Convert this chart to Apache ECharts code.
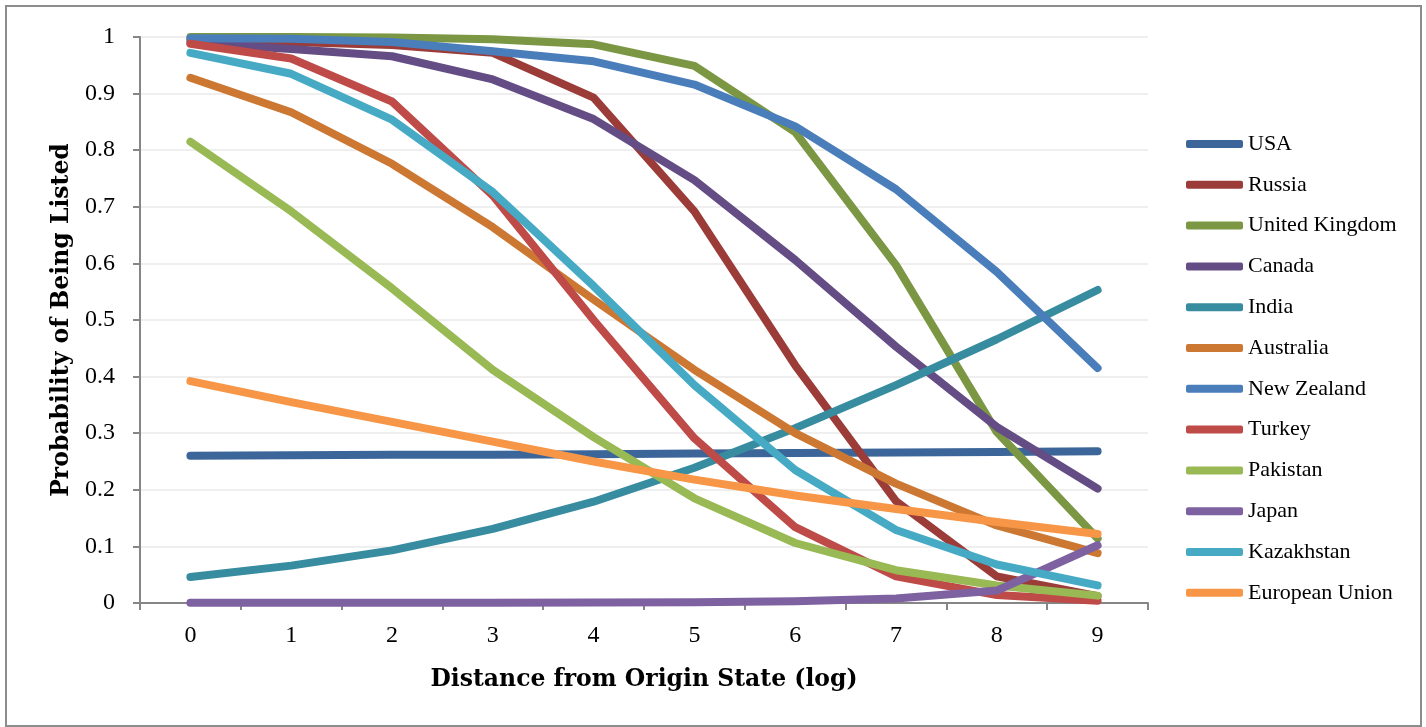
<!DOCTYPE html>
<html>
<head>
<meta charset="utf-8">
<title>Probability of Being Listed</title>
<script src="https://cdn.jsdelivr.net/npm/echarts@6/dist/echarts.min.js"></script>
<style>
  html, body { margin: 0; padding: 0; background: #fff; }
  #chart { width: 1426px; height: 727px; }
</style>
</head>
<body>
<div id="chart"></div>
<script>
// distance categories (log)
var categories = ['0', '1', '2', '3', '4', '5', '6', '7', '8', '9'];

// values
var usa        = [0.260, 0.261, 0.262, 0.262, 0.263, 0.264, 0.265, 0.266, 0.267, 0.268];
var russia     = [0.995, 0.991, 0.986, 0.972, 0.893, 0.692, 0.420, 0.180, 0.047, 0.012];
var uk         = [1.000, 1.000, 0.999, 0.996, 0.987, 0.949, 0.832, 0.597, 0.302, 0.114];
var canada     = [0.990, 0.979, 0.966, 0.925, 0.855, 0.747, 0.606, 0.453, 0.311, 0.202];
var india      = [0.046, 0.066, 0.093, 0.131, 0.179, 0.239, 0.309, 0.385, 0.466, 0.553];
var australia  = [0.928, 0.867, 0.776, 0.664, 0.536, 0.412, 0.300, 0.211, 0.137, 0.088];
var newZealand = [0.998, 0.997, 0.991, 0.975, 0.957, 0.916, 0.842, 0.731, 0.585, 0.415];
var turkey     = [0.988, 0.962, 0.886, 0.720, 0.500, 0.291, 0.134, 0.047, 0.014, 0.004];
var pakistan   = [0.815, 0.692, 0.556, 0.412, 0.293, 0.185, 0.106, 0.058, 0.031, 0.013];
var japan      = [0.0003, 0.0004, 0.0005, 0.0006, 0.0008, 0.0012, 0.003, 0.008, 0.022, 0.102];
var kazakhstan = [0.972, 0.935, 0.854, 0.726, 0.560, 0.385, 0.235, 0.129, 0.068, 0.031];
var eu         = [0.392, 0.355, 0.320, 0.285, 0.250, 0.218, 0.190, 0.166, 0.143, 0.122];

var seriesNames = ['USA', 'Russia', 'United Kingdom', 'Canada', 'India', 'Australia',
  'New Zealand', 'Turkey', 'Pakistan', 'Japan', 'Kazakhstan', 'European Union'];
var seriesData = [usa, russia, uk, canada, india, australia,
  newZealand, turkey, pakistan, japan, kazakhstan, eu];
var colors = ['#3c6699', '#9b3c39', '#7b9743', '#644c84', '#378c9f', '#cc7833',
  '#4a7ebb', '#be4b48', '#98b954', '#7e61a0', '#46aac5', '#f79646'];

var font = '"Liberation Serif", "Times New Roman", serif';
var titleFont = '"DejaVu Serif", "Liberation Serif", serif';
var axisGray = '#868686';

var chart = echarts.init(document.getElementById('chart'));

var series = seriesNames.map(function (name, i) {
  return {
    name: name,
    type: 'line',
    data: seriesData[i],
    showSymbol: false,
    symbol: 'none',
    lineStyle: { width: 8, color: colors[i], cap: 'round', join: 'round' },
    itemStyle: { color: colors[i] },
    emphasis: { disabled: true }
  };
});

var option = {
  animation: false,
  color: colors,
  grid: { left: 140, right: 278, top: 37, bottom: 124, containLabel: false },
  graphic: [{
    type: 'rect',
    shape: { x: 6, y: 6, width: 1415, height: 720 },
    style: { fill: 'none', stroke: '#8c8c8c', lineWidth: 2 },
    silent: true
  }],
  legend: {
    orient: 'vertical',
    left: 1181,
    top: 128,
    icon: 'roundRect',
    itemWidth: 57,
    itemHeight: 8,
    itemGap: 18.8,
    itemTextGap: 4,
    itemStyle: { borderWidth: 0 },
    textStyle: { fontFamily: font, fontSize: 22, color: '#000', lineHeight: 20 },
    selectedMode: false,
    data: seriesNames
  },
  xAxis: {
    type: 'category',
    data: categories,
    boundaryGap: true,
    name: 'Distance from Origin State (log)',
    nameLocation: 'middle',
    nameGap: 65,
    nameTextStyle: { fontFamily: titleFont, fontSize: 23.5, fontWeight: 'bold', color: '#000' },
    axisLine: { lineStyle: { color: axisGray, width: 2 } },
    axisTick: { show: true, length: 7, lineStyle: { color: axisGray, width: 2 } },
    axisLabel: { fontFamily: font, fontSize: 24, color: '#000', margin: 21 },
    splitLine: { show: false }
  },
  yAxis: {
    type: 'value',
    min: 0,
    max: 1,
    interval: 0.1,
    name: 'Probability of Being Listed',
    nameLocation: 'middle',
    nameGap: 65,
    nameTextStyle: { fontFamily: titleFont, fontSize: 23.5, fontWeight: 'bold', color: '#000' },
    axisLine: { show: true, lineStyle: { color: axisGray, width: 2 } },
    axisTick: { show: true, length: 7, lineStyle: { color: axisGray, width: 2 } },
    axisLabel: {
      fontFamily: font, fontSize: 24, color: '#000', margin: 25,
      formatter: function (v) { return String(parseFloat(v.toFixed(1))); }
    },
    splitLine: { show: true, lineStyle: { color: '#efefef', width: 2 } }
  },
  series: series
};

chart.setOption(option);
</script>
</body>
</html>
